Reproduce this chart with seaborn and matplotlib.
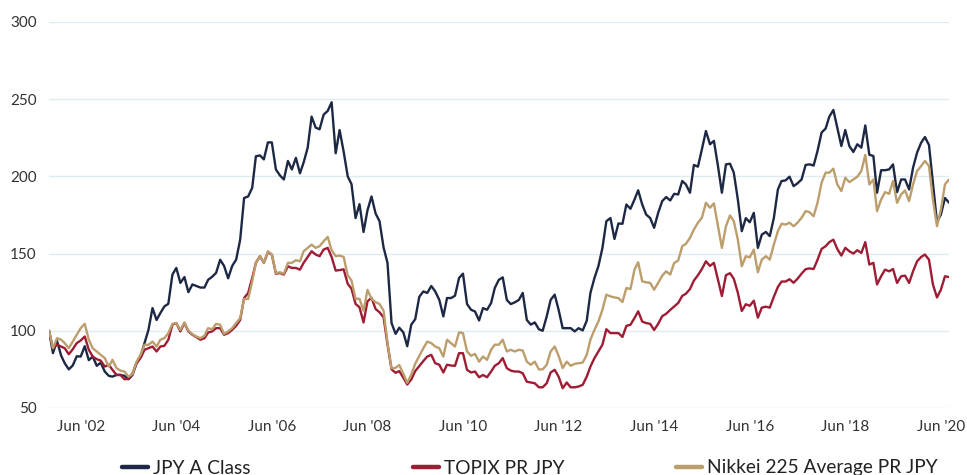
import pandas as pd
import seaborn as sns
import matplotlib.pyplot as plt
from matplotlib.lines import Line2D

# monthly values, Oct 2001 .. Aug 2020 (rebased to 100)
start = "2001-10-31"
n_months = 227

jpy_a_class = [
    100, 85.5, 93.5, 84, 79, 75, 77.5, 83.5, 83.3, 90,
    81, 83.3, 77.3, 79.4, 73.6, 70.8, 70.3, 71.4, 71.4, 70.8,
    68.6, 71.4, 79, 83.3, 92, 100.6, 114.7, 107, 111.5, 115.8,
    117.5, 136.4, 140.7, 131, 134.8, 125, 130, 129, 128, 128,
    133, 135, 137.5, 146, 142, 134, 142, 146, 159, 186,
    187, 192.6, 213, 213.6, 211, 222, 222, 204.5, 200.6, 198,
    210, 204.5, 212, 202, 209, 218.6, 238.7, 231.6, 230.5, 240,
    242.4, 248, 215, 230, 216, 200, 195, 173, 182, 164,
    178, 187, 176, 171, 154, 144, 105, 98, 102, 99,
    90, 104, 107.5, 122, 125.5, 124.5, 129, 125.5, 120, 109.3,
    121.2, 121.2, 122.7, 134.2, 137, 117.3, 113.6, 112.5, 106.7, 114.7,
    113.6, 118, 127.7, 133, 134.6, 120, 117.3, 118.4, 120, 124.5,
    107, 104, 105.4, 101, 100, 109.3, 120, 123.4, 113.6, 101.7,
    101.7, 101.7, 99.6, 101.7, 100.2, 106.5, 124.5, 134.2, 141.8, 153.7,
    171, 173, 159.5, 169.5, 169.3, 181.8, 179, 185, 191, 181.8,
    175.3, 173, 166.7, 176.4, 184, 186.6, 184.4, 188.7, 188.3, 197,
    194.8, 189.4, 207.4, 206.3, 217.5, 229.4, 220.8, 223, 206.7, 189.4,
    207.8, 208.2, 202.4, 185, 164.5, 173, 170.3, 176.4, 153.7, 162.3,
    164, 161.3, 173, 191.5, 197, 197.4, 199.8, 193.7, 195.5, 198,
    207.4, 207.8, 207, 216.5, 228.4, 231, 238.7, 243, 231.6, 219.7,
    230, 219.7, 215.8, 220.8, 218.6, 233, 214, 213.2, 189.4, 204,
    204, 204.5, 207.8, 189.8, 198, 198, 191.5, 205.6, 215.4, 221.8,
    225.5, 220.3, 195.7, 170.3, 175.3, 186, 183,
]

topix = [
    100, 88.7, 91, 89.8, 88.7, 84.8, 88, 92, 93.7, 96.3,
    87.7, 83.3, 81.6, 80.7, 76.8, 78, 74.7, 71.4, 71.4, 68.6,
    68.8, 72.5, 79, 82.3, 87.7, 88.7, 89.8, 86.6, 89.8, 90.3,
    94.2, 103.9, 105, 99.6, 105, 99.6, 97.4, 95.9, 94.2, 95.2,
    98.9, 99.6, 101.7, 101.7, 97.4, 98.5, 100.6, 103.2, 107, 121.2,
    124.5, 134.2, 144, 148.3, 144, 150.9, 149.4, 137, 137.4, 136.4,
    141.8, 140.7, 140.7, 139.6, 144, 147.8, 151.5, 149.4, 148.3, 152.6,
    153.7, 147.8, 139, 139.3, 139.8, 130.4, 127.2, 117.4, 115.2, 105.4,
    119.1, 121.3, 114.1, 112, 108.7, 91.3, 75, 72.8, 73.9, 69.6,
    65.2, 68.5, 73.9, 77.2, 80.4, 83.3, 84.4, 79, 78, 73,
    78, 77.5, 77.3, 85.5, 85.5, 74.7, 73, 73.6, 69.9, 71.4,
    69.9, 73.6, 77.3, 79, 82.3, 75.8, 74.2, 73.6, 73.6, 72.5,
    67, 66.5, 66, 63.4, 63.4, 66, 73, 74.7, 70.3, 62.8,
    66.5, 63.4, 63.4, 63.9, 65, 70.3, 76.8, 82.3, 86.6, 91,
    101, 98.5, 98.5, 98.5, 96, 103.2, 103.9, 108.2, 112.6, 106,
    105, 104.5, 100.5, 104.5, 109.5, 111, 113.5, 115.7, 118, 122.6,
    124, 127, 132.5, 136, 140, 145, 142, 144, 133.2, 122.5,
    136, 137.3, 133.7, 124.6, 112.8, 117.2, 116.2, 119.5, 108.5, 115,
    115.6, 115, 122, 128.4, 131.9, 131.9, 133.4, 131.1, 133.7, 137,
    139.9, 140.4, 140, 146, 153, 154.8, 157.4, 159, 153, 148.7,
    153.7, 151.5, 150, 152.2, 150.4, 157.4, 142.9, 144, 130, 135.3,
    139.6, 138.5, 140, 131, 135.3, 135.7, 131, 138.5, 145, 147.8,
    149.4, 146, 130, 121.6, 126.6, 135.3, 134.8,
]

nikkei = [
    100, 88.7, 95.2, 94.2, 92, 88.7, 93, 97.4, 101.7, 104.5,
    94.2, 88.7, 86.6, 84.4, 82.3, 76.8, 81.2, 75.8, 74.2, 73.6,
    70.3, 72, 80, 84.4, 90.9, 90.9, 93, 89.8, 94.2, 95.2,
    98.5, 104.5, 105, 100.6, 105.4, 100.2, 97.8, 96.3, 95.2, 96.8,
    101.7, 101, 104.5, 103.9, 98, 99.6, 101.7, 105, 108.2, 120.6,
    120.6, 132, 144, 148.3, 144, 151.5, 149.4, 137.4, 137.9, 137,
    144, 144, 145.7, 145, 151.5, 153.7, 155.8, 153.7, 154.8, 158,
    160.8, 152.2, 148.3, 148.7, 147.8, 135.9, 132.6, 120.7, 120.7, 113,
    126.5, 120.7, 118.5, 117.4, 113, 92.4, 75.7, 76, 77.8, 72.2,
    66.3, 71.7, 78.7, 83.7, 88.7, 93, 92, 89.8, 88.7, 83.3,
    94.2, 92, 89.8, 99, 98.5, 86.6, 83.8, 85, 80, 83.3,
    81.2, 87.7, 91, 91, 94.2, 86.6, 87.7, 86.6, 87.7, 87.2,
    80, 78, 80, 75, 75, 78, 86.6, 89.8, 83.8, 75.8,
    80, 77.3, 78.6, 79, 79.4, 84.4, 94.2, 100.6, 106, 113.6,
    123.4, 122.3, 121.6, 121.2, 118.6, 127.7, 127, 139.6, 144.4, 132,
    131.4, 131, 126.6, 131, 135.7, 138.5, 136.4, 143.9, 145.5, 154.8,
    156.3, 160.2, 165.6, 170, 173.2, 182.9, 179.7, 182.5, 167.7, 153.7,
    167.7, 174.7, 171, 159, 141.8, 148.3, 147.6, 152.6, 137.9, 146.1,
    148.3, 146.1, 155.8, 164.5, 169.3, 168.8, 170, 167.7, 170, 173.2,
    177.5, 176.8, 174.2, 182.9, 195.9, 202.4, 202.4, 205, 194.8, 190.5,
    199.1, 196.3, 198, 199.8, 203.5, 213.9, 194.8, 198, 177.5, 185,
    189.8, 188.7, 197, 182.9, 188.3, 190.9, 184, 194.8, 203.5, 206.7,
    210, 206.7, 185, 167.7, 178.6, 194.8, 198,
]

series_names = ["JPY A Class", "TOPIX PR JPY", "Nikkei 225 Average PR JPY"]
colors = ["#1d2944", "#9e1c34", "#bc9e6d"]
tick_years = list(range(2002, 2021, 2))

dates = pd.date_range(start, periods=n_months, freq="ME")
wide = pd.DataFrame({"date": dates,
                     series_names[0]: jpy_a_class,
                     series_names[1]: topix,
                     series_names[2]: nikkei})
df = wide.melt(id_vars="date", var_name="series", value_name="value")

sns.set_theme(style="white")
plt.rcParams["font.family"] = ["Lato", "DejaVu Sans"]

fig = plt.figure(figsize=(9.67, 4.75), dpi=100)
ax = fig.add_axes([0.0507, 0.1411, 0.9307, 0.8126])

sns.lineplot(data=df, x="date", y="value", hue="series", hue_order=series_names,
             palette=dict(zip(series_names, colors)), linewidth=1.7,
             legend=False, ax=ax)

ax.set_ylim(50, 300)
ax.set_yticks(range(50, 301, 50))
ax.set_xlim(dates[0], dates[-1])
ax.set_xticks([pd.Timestamp(f"{y}-06-30") for y in tick_years])
ax.set_xticklabels([f"Jun '{y % 100:02d}" for y in tick_years])
ax.set_xlabel("")
ax.set_ylabel("")

ax.yaxis.grid(True, color="#e0ebef", linewidth=1)
ax.xaxis.grid(False)
ax.set_axisbelow(True)
for s in ax.spines.values():
    s.set_visible(False)
ax.tick_params(length=0, labelsize=11, colors="#333333", pad=9)

# legend entries sit at fixed spots along the bottom
legend_x = [122, 413, 676]
for name, c, x in zip(series_names, colors, legend_x):
    h = Line2D([], [], color=c, linewidth=3.2)
    fig.legend(handles=[h], labels=[name], loc="center left",
               bbox_to_anchor=(x / 967, 1 - 468 / 475), frameon=False,
               fontsize=13.8, handlelength=1.35, handletextpad=0.25,
               borderpad=0, borderaxespad=0, labelcolor="#222222")

fig.savefig("out.png", dpi=100)
